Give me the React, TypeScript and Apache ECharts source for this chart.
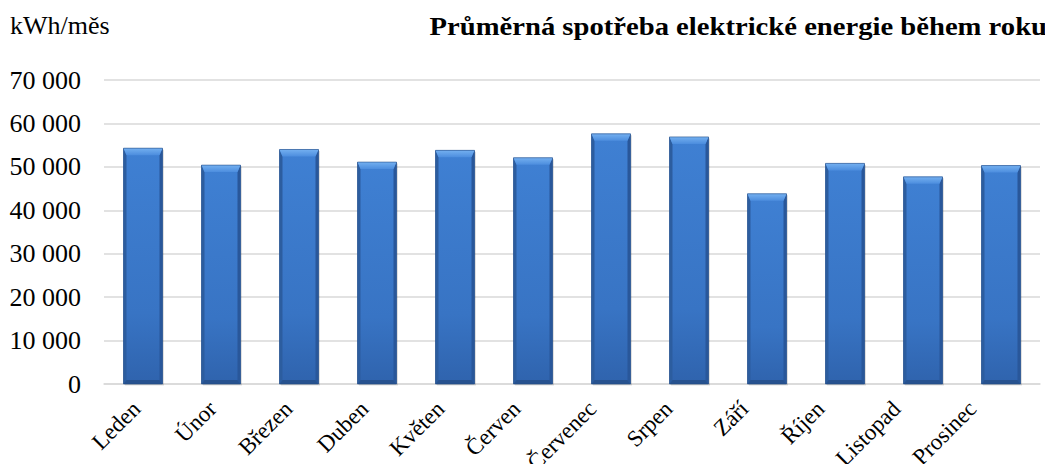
import React, { useEffect, useRef } from "react";
import * as echarts from "echarts";

const months = ["Leden", "Únor", "Březen", "Duben", "Květen", "Červen", "Červenec", "Srpen", "Září", "Říjen", "Listopad", "Prosinec"];
const consumption = [54300, 50400, 54000, 51100, 53800, 52100, 57600, 56900, 43800, 50800, 47700, 50300];
const yTicks = { min: 0, max: 70000, interval: 10000 };
const unitLabel = "kWh/měs";
const chartTitle = "Průměrná spotřeba elektrické energie během roku";

const FONT = "'Liberation Serif', 'Times New Roman', serif";

function renderBar(params: any, api: any) {
  const idx = api.value(0);
  const val = api.value(1);
  const top = api.coord([idx, val]);
  const bot = api.coord([idx, 0]);
  const w = api.size([1, 0])[0] * 0.5;
  const x0 = top[0] - w / 2;
  const x1 = top[0] + w / 2;
  const y0 = top[1];
  const y1 = bot[1];
  const bev = 7;
  const side = 3;
  const bb = 4;
  return {
    type: "group",
    children: [
      {
        type: "rect",
        shape: { x: x0 + 1.5, y: y0 + 1.5, width: w, height: y1 - y0 },
        style: { fill: "rgba(0,0,0,0.12)" },
      },
      {
        type: "rect",
        shape: { x: x0, y: y0, width: w, height: y1 - y0 },
        style: {
          fill: new echarts.graphic.LinearGradient(0, 0, 0, 1, [
            { offset: 0, color: "#3f80d3" },
            { offset: 0.7, color: "#3874c4" },
            { offset: 1, color: "#2f63ad" },
          ]),
        },
      },
      {
        type: "polygon",
        shape: { points: [[x0, y0], [x0 + side, y0 + bev], [x0 + side, y1 - bb], [x0, y1]] },
        style: { fill: "#2c5d9f" },
      },
      {
        type: "polygon",
        shape: { points: [[x1, y0], [x1 - side, y0 + bev], [x1 - side, y1 - bb], [x1, y1]] },
        style: { fill: "#29579a" },
      },
      {
        type: "polygon",
        shape: { points: [[x0, y0], [x1, y0], [x1 - side, y0 + bev], [x0 + side, y0 + bev]] },
        style: {
          fill: new echarts.graphic.LinearGradient(0, 0, 0, 1, [
            { offset: 0, color: "#74b0f0" },
            { offset: 1, color: "#4c8dde" },
          ]),
        },
      },
      {
        type: "polygon",
        shape: { points: [[x0, y1], [x0 + side, y1 - bb], [x1 - side, y1 - bb], [x1, y1]] },
        style: { fill: "#27528f" },
      },
      {
        type: "rect",
        shape: { x: x0, y: y0, width: w, height: y1 - y0 },
        style: { fill: "none", stroke: "#234d88", lineWidth: 0.6 },
      },
    ],
  };
}

export default function App() {
  const ref = useRef<HTMLDivElement>(null);
  useEffect(() => {
    if (!ref.current) return;
    const chart = echarts.init(ref.current, null, { renderer: "svg" });
    chart.setOption({
      animation: false,
      backgroundColor: "#ffffff",
      graphic: [
        {
          type: "text",
          x: 10,
          y: 25,
          style: {
            text: unitLabel,
            font: `normal 26px ${FONT}`,
            fill: "#000",
            align: "left",
            verticalAlign: "middle",
          },
        },
        {
          type: "text",
          x: 1047,
          y: 26.5,
          scaleX: 1.146,
          style: {
            text: chartTitle,
            font: `bold 25px ${FONT}`,
            fill: "#000",
            align: "right",
            verticalAlign: "middle",
          },
        },
      ],
      grid: [
        { left: 104, right: 13, top: 80, bottom: 88, containLabel: false, outerBoundsMode: "none" },
        { left: 98.5, right: 42.5, top: 80, bottom: 88, containLabel: false, outerBoundsMode: "none" },
      ],
      xAxis: [
        {
          type: "category",
          data: months,
          gridIndex: 0,
          axisLine: { show: true, lineStyle: { color: "#d9d9d9", width: 1.5 } },
          axisTick: { show: false },
          axisLabel: { show: false },
        },
        {
          type: "category",
          data: months,
          gridIndex: 1,
          axisLine: { show: false },
          axisTick: { show: false },
          splitLine: { show: false },
          axisLabel: {
            rotate: 45,
            margin: 21,
            interval: 0,
            fontFamily: FONT,
            fontSize: 23,
            color: "#000",
          },
        },
      ],
      yAxis: [
        {
          type: "value",
          gridIndex: 0,
          min: yTicks.min,
          max: yTicks.max,
          interval: yTicks.interval,
          axisLine: { show: false },
          axisTick: { show: false },
          splitLine: { lineStyle: { color: "#d9d9d9", width: 1.5 } },
          axisLabel: {
            margin: 23,
            fontFamily: FONT,
            fontSize: 26,
            color: "#000",
            formatter: (v: number) => String(v).replace(/\B(?=(\d{3})+(?!\d))/g, " "),
          },
        },
        {
          type: "value",
          gridIndex: 1,
          min: yTicks.min,
          max: yTicks.max,
          show: false,
        },
      ],
      series: [
        {
          type: "custom",
          renderItem: renderBar,
          xAxisIndex: 0,
          yAxisIndex: 0,
          encode: { x: 0, y: 1 },
          data: consumption.map((v, i) => [i, v]),
        },
      ],
    });
    return () => chart.dispose();
  }, []);
  return <div ref={ref} style={{ width: 1053, height: 472, margin: -8 }} />;
}
